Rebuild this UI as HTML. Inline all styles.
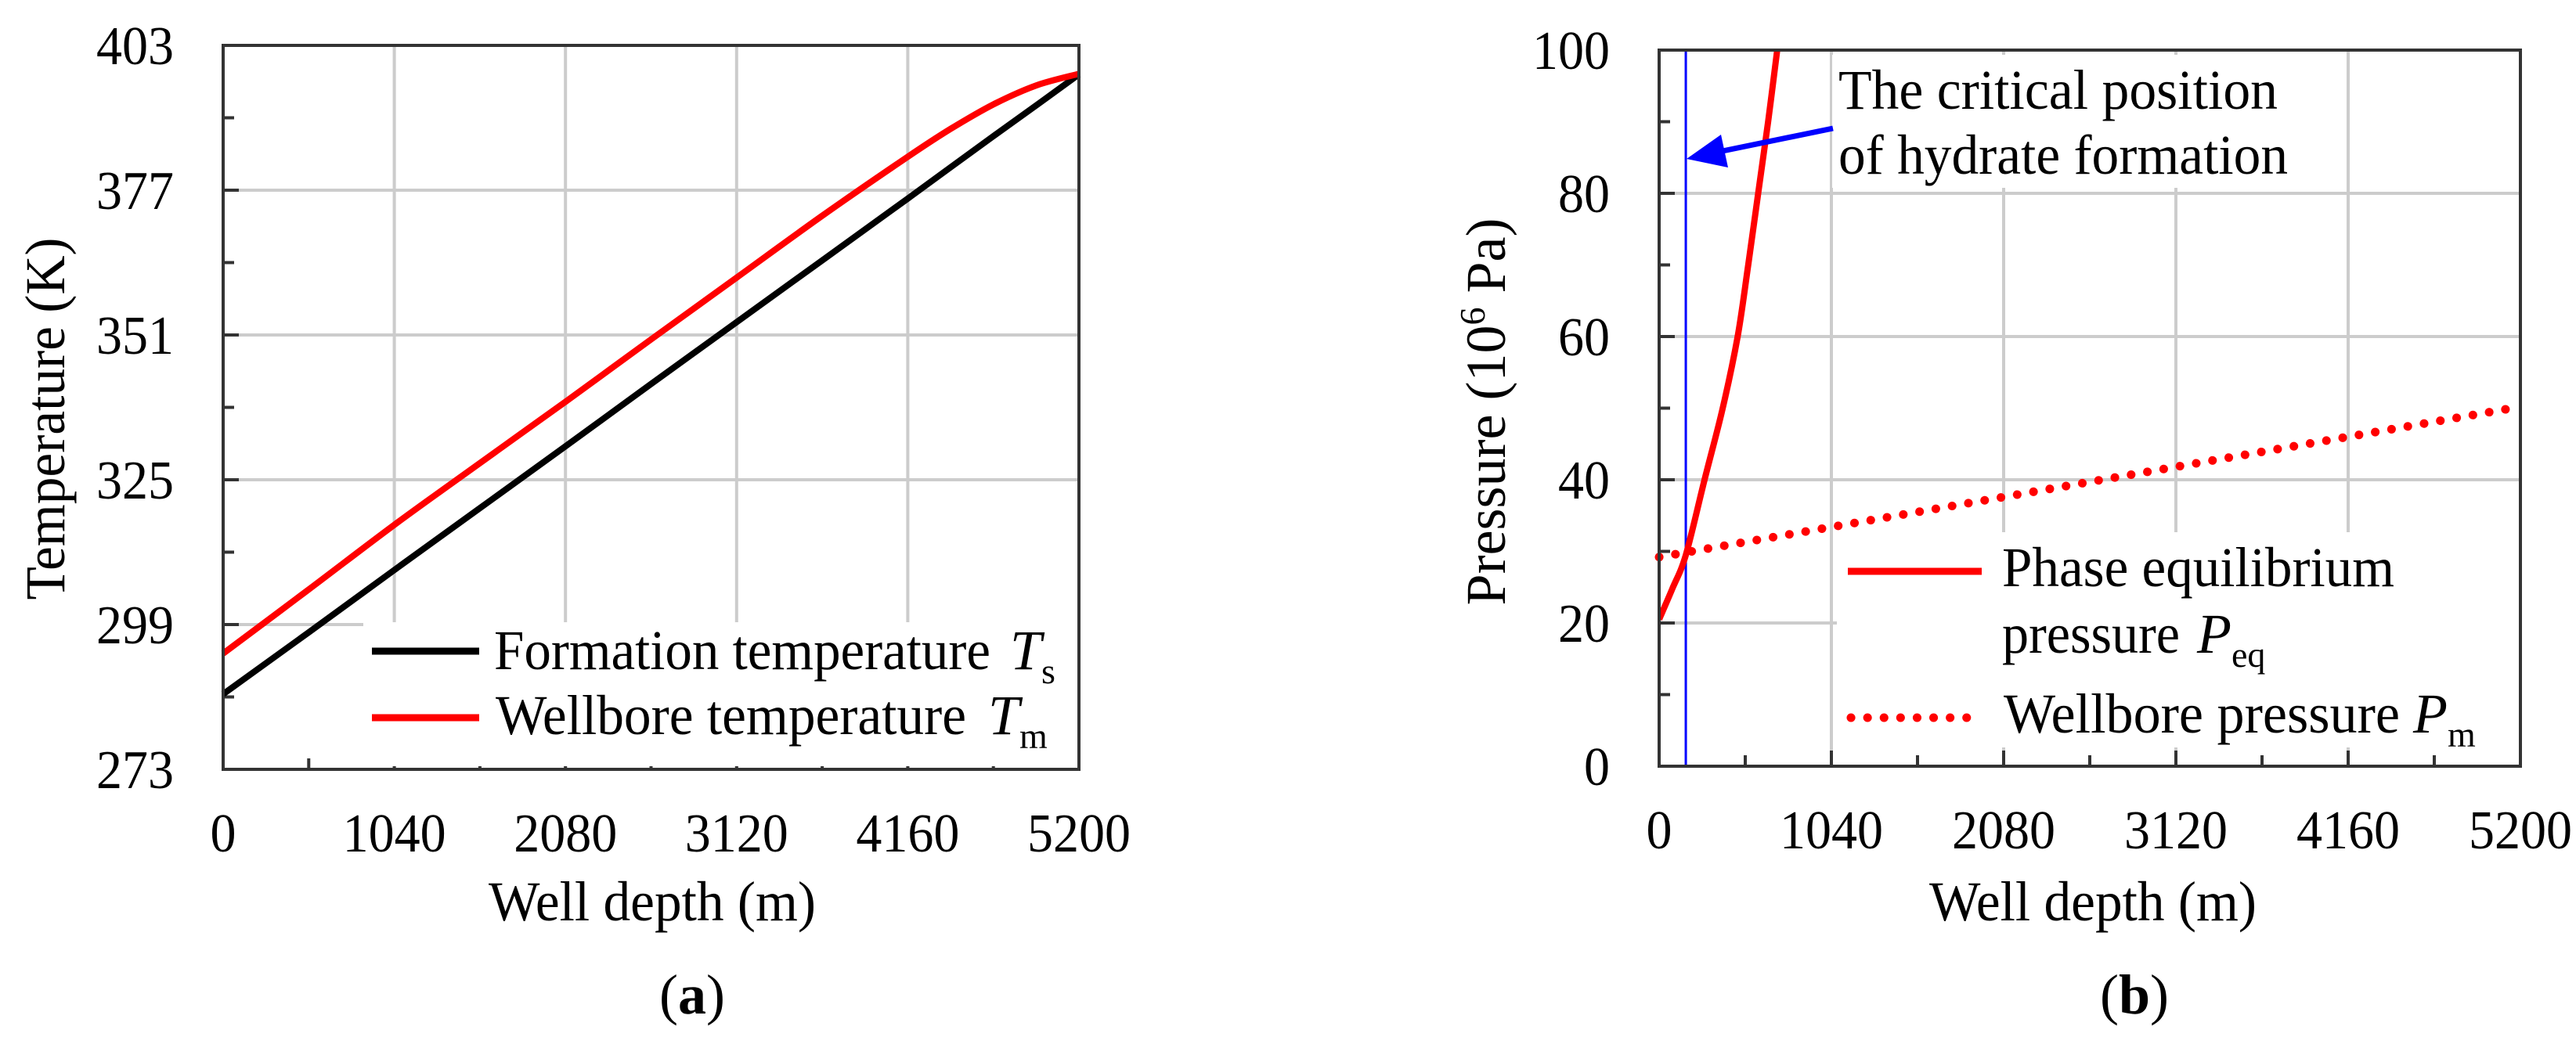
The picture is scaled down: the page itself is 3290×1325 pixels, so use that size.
<!DOCTYPE html>
<html><head><meta charset="utf-8"><style>
html,body{margin:0;padding:0;background:#fff}
svg{display:block}
svg text, svg tspan{font-family:"Liberation Serif","DejaVu Serif",serif}
</style></head><body>
<svg id="fig" width="3290" height="1325" viewBox="0 0 3290 1325" xmlns="http://www.w3.org/2000/svg" font-family="Liberation Serif, DejaVu Serif, serif"></svg>
<script>
// ---- Data: panel (a)
const depthA = [0, 520, 1040, 1560, 2080, 2600, 3120, 3640, 4160, 4420, 4680, 4940, 5200];
const formationT = [286.5, 297.6, 308.8, 319.9, 331.0, 342.2, 353.3, 364.4, 375.5, 381.1, 386.7, 392.2, 397.8];
const wellboreT = [293.8, 305.3, 316.9, 328.0, 339.0, 350.2, 361.3, 372.4, 383.0, 388.0, 392.4, 395.8, 397.9];
const xTicksA = [0, 1040, 2080, 3120, 4160, 5200];
const yTicksA = [273, 299, 325, 351, 377, 403];
// ---- Data: panel (b)
const depthPeq = [0, 80, 161, 274, 384, 474, 538, 598, 658, 713];
const peq = [20.5, 24.8, 29.5, 40, 50, 60, 70, 80, 90, 100];
const depthPm = [0, 1040, 2080, 3120, 4160, 5200];
const pm = [29.2, 33.4, 37.6, 41.8, 46.0, 50.2];
const criticalDepth = 161;
const xTicksB = [0, 1040, 2080, 3120, 4160, 5200];
const yTicksB = [0, 20, 40, 60, 80, 100];

const NS = "http://www.w3.org/2000/svg";
const svg = document.getElementById('fig');
function mk(tag, attrs, parent, txt){
  const e = document.createElementNS(NS, tag);
  for (const k in attrs) e.setAttribute(k, attrs[k]);
  if (txt !== undefined) e.textContent = txt;
  (parent || svg).appendChild(e);
  return e;
}

function panel(o){
  const g = mk('g', {});
  
  
  const sx = v => o.x0 + (v - o.xmin) / (o.xmax - o.xmin) * (o.x1 - o.x0);
  const sy = v => o.y1 - (v - o.ymin) / (o.ymax - o.ymin) * (o.y1 - o.y0);
  const grid = mk('g', {stroke:'#cccccc','stroke-width':4}, g);
  
  
  o.xt.forEach(v => mk('line', {x1:sx(v), x2:sx(v), y1:o.y0, y2:o.y1}, grid));
  o.yt.forEach(v => mk('line', {x1:o.x0, x2:o.x1, y1:sy(v), y2:sy(v)}, grid));
  const tk = mk('g', {stroke:'#333','stroke-width':4}, g);
  
  
  for (let i = 0; i < o.xt.length; i++){
    mk('line', {x1:sx(o.xt[i]), x2:sx(o.xt[i]), y1:o.y1, y2:o.y1-20}, tk);
    if (i < o.xt.length-1){ const m = (o.xt[i]+o.xt[i+1])/2; mk('line', {x1:sx(m), x2:sx(m), y1:o.y1, y2:o.y1-14}, tk); }
  }
  for (let i = 0; i < o.yt.length; i++){
    mk('line', {x1:o.x0, x2:o.x0+20, y1:sy(o.yt[i]), y2:sy(o.yt[i])}, tk);
    if (i < o.yt.length-1){ const m = (o.yt[i]+o.yt[i+1])/2; mk('line', {x1:o.x0, x2:o.x0+14, y1:sy(m), y2:sy(m)}, tk); }
  }
  o.xt.forEach(v => {
    const t = mk('text', {x:sx(v), y:o.y1+105, 'font-size':70, 'text-anchor':'middle', textLength:String(v).length*33, lengthAdjust:'spacingAndGlyphs'}, g, String(v));
    
    
  });
  o.yt.forEach(v => {
    const t = mk('text', {x:o.ylabX, y:sy(v)+24, 'font-size':70, 'text-anchor':'end', textLength:String(v).length*33, lengthAdjust:'spacingAndGlyphs'}, g, String(v));
    
    
  });
  return {g, sx, sy};
}
function smoothD(xs, ys, sx, sy){
  const P = xs.map((x,i)=>[sx(x), sy(ys[i])]);
  let d = 'M'+P[0][0].toFixed(1)+' '+P[0][1].toFixed(1);
  for (let i = 0; i < P.length-1; i++){
    const p0 = P[Math.max(0,i-1)], p1 = P[i], p2 = P[i+1], p3 = P[Math.min(P.length-1,i+2)];
    const c1 = [p1[0]+(p2[0]-p0[0])/6, p1[1]+(p2[1]-p0[1])/6];
    const c2 = [p2[0]-(p3[0]-p1[0])/6, p2[1]-(p3[1]-p1[1])/6];
    d += ' C'+c1[0].toFixed(1)+' '+c1[1].toFixed(1)+' '+c2[0].toFixed(1)+' '+c2[1].toFixed(1)+' '+p2[0].toFixed(1)+' '+p2[1].toFixed(1);
  }
  return d;
}
function pathD(xs, ys, sx, sy){ return xs.map((x,i)=>(i?'L':'M')+sx(x).toFixed(1)+' '+sy(ys[i]).toFixed(1)).join(' '); }

// ===== Panel A
const A = panel({name:'temperature-chart', x0:285, x1:1378, y0:58, y1:983, xmin:0, xmax:5200, ymin:273, ymax:403, xt:xTicksA, yt:yTicksA, ylabX:222});
const lbA = mk('rect', {x:464, y:795, width:912, height:184, fill:'#fff'}, A.g);


const sFm = mk('path', {d:pathD(depthA, formationT, A.sx, A.sy), fill:'none', stroke:'#000', 'stroke-width':8}, A.g);


const sWb = mk('path', {d:smoothD(depthA, wellboreT, A.sx, A.sy), fill:'none', stroke:'#ff0000', 'stroke-width':8, 'stroke-linejoin':'round'}, A.g);


const axA = mk('path', {d:'M285 58 H1378 V983 H285 Z', fill:'none', stroke:'#333', 'stroke-width':4}, A.g);


const le1 = mk('g', {}, A.g);


mk('line', {x1:475, x2:612, y1:832, y2:832, stroke:'#000', 'stroke-width':9}, le1);
mk('text', {x:631, y:855, 'font-size':72, textLength:634, lengthAdjust:'spacingAndGlyphs'}, le1, 'Formation temperature');
const ts = mk('text', {x:1290, y:855, 'font-size':72}, le1);
mk('tspan', {'font-style':'italic'}, ts, 'T');
mk('tspan', {'font-size':46, dy:18}, ts, 's');
const le2 = mk('g', {}, A.g);


mk('line', {x1:475, x2:612, y1:917, y2:917, stroke:'#ff0000', 'stroke-width':9}, le2);
mk('text', {x:633, y:938, 'font-size':72, textLength:601, lengthAdjust:'spacingAndGlyphs'}, le2, 'Wellbore temperature');
const tm = mk('text', {x:1262, y:938, 'font-size':72}, le2);
mk('tspan', {'font-style':'italic'}, tm, 'T');
mk('tspan', {'font-size':46, dy:18}, tm, 'm');
const xtA = mk('text', {x:833, y:1176, 'font-size':72, 'text-anchor':'middle', textLength:418, lengthAdjust:'spacingAndGlyphs'}, A.g, 'Well depth (m)');


const ytA = mk('text', {x:0, y:0, 'font-size':72, 'text-anchor':'middle', textLength:463, lengthAdjust:'spacingAndGlyphs', transform:'translate(82,535) rotate(-90)'}, A.g, 'Temperature (K)');


const capA = mk('text', {x:884, y:1295, 'font-size':72, 'text-anchor':'middle'}, A.g);


mk('tspan', {}, capA, '(');
mk('tspan', {'font-weight':'bold'}, capA, 'a');
mk('tspan', {}, capA, ')');

// ===== Panel B
const B = panel({name:'pressure-chart', x0:2119, x1:3219, y0:64, y1:979, xmin:0, xmax:5200, ymin:0, ymax:100, xt:xTicksB, yt:yTicksB, ylabX:2056});
const ab = mk('rect', {x:2340, y:70, width:580, height:170, fill:'#fff'}, B.g);


const lbB = mk('rect', {x:2346, y:680, width:871, height:275, fill:'#fff'}, B.g);


const cl = mk('line', {x1:B.sx(criticalDepth), x2:B.sx(criticalDepth), y1:64, y2:979, stroke:'#0000ff', 'stroke-width':3}, B.g);


const pmL = mk('path', {d:pathD(depthPm, pm, B.sx, B.sy), fill:'none', stroke:'#ff0000', 'stroke-width':11, 'stroke-linecap':'round', 'stroke-dasharray':'0.1 21'}, B.g);


const cp = mk('clipPath', {id:'clipB'}, svg);
mk('rect', {x:2119, y:64, width:1100, height:915}, cp);
const peqL = mk('path', {d:smoothD(depthPeq, peq, B.sx, B.sy), fill:'none', stroke:'#ff0000', 'stroke-width':8, 'clip-path':'url(#clipB)', 'stroke-linejoin':'round'}, B.g);


const axB = mk('path', {d:'M2119 64 H3219 V979 H2119 Z', fill:'none', stroke:'#333', 'stroke-width':4}, B.g);


const arr = mk('g', {}, B.g);


mk('line', {x1:2341, y1:164, x2:2195, y2:194, stroke:'#0000ff', 'stroke-width':7}, arr);
mk('polygon', {points:'2154,203 2198,172 2207,214', fill:'#0000ff'}, arr);
const an1 = mk('text', {x:2348, y:139, 'font-size':72, textLength:561, lengthAdjust:'spacingAndGlyphs'}, B.g, 'The critical position');


const an2 = mk('text', {x:2348, y:222, 'font-size':72, textLength:574, lengthAdjust:'spacingAndGlyphs'}, B.g, 'of hydrate formation');


const lb1 = mk('g', {}, B.g);


mk('line', {x1:2360, x2:2531, y1:730, y2:730, stroke:'#ff0000', 'stroke-width':9}, lb1);
mk('text', {x:2557, y:749, 'font-size':72, textLength:501, lengthAdjust:'spacingAndGlyphs'}, lb1, 'Phase equilibrium');
mk('text', {x:2557, y:834, 'font-size':72, textLength:227, lengthAdjust:'spacingAndGlyphs'}, lb1, 'pressure');
const pq = mk('text', {x:2806, y:834, 'font-size':72}, lb1);
mk('tspan', {'font-style':'italic'}, pq, 'P');
mk('tspan', {'font-size':46, dy:18}, pq, 'eq');
const lb2 = mk('g', {}, B.g);


mk('line', {x1:2364, x2:2530, y1:917, y2:917, stroke:'#ff0000', 'stroke-width':11, 'stroke-linecap':'round', 'stroke-dasharray':'0.1 21'}, lb2);
mk('text', {x:2559, y:936, 'font-size':72, textLength:506, lengthAdjust:'spacingAndGlyphs'}, lb2, 'Wellbore pressure');
const pmt = mk('text', {x:3082, y:936, 'font-size':72}, lb2);
mk('tspan', {'font-style':'italic'}, pmt, 'P');
mk('tspan', {'font-size':46, dy:18}, pmt, 'm');
const xtB = mk('text', {x:2673, y:1176, 'font-size':72, 'text-anchor':'middle', textLength:418, lengthAdjust:'spacingAndGlyphs'}, B.g, 'Well depth (m)');


const ytB = mk('text', {x:0, y:0, 'font-size':72, 'text-anchor':'middle', transform:'translate(1922,526) rotate(-90)'}, B.g);


mk('tspan', {}, ytB, 'Pressure (10');
mk('tspan', {'font-size':46, dy:-26}, ytB, '6');
mk('tspan', {dy:26}, ytB, ' Pa)');
const capB = mk('text', {x:2726, y:1295, 'font-size':72, 'text-anchor':'middle'}, B.g);


mk('tspan', {}, capB, '(');
mk('tspan', {'font-weight':'bold'}, capB, 'b');
mk('tspan', {}, capB, ')');
</script>
</body></html>
